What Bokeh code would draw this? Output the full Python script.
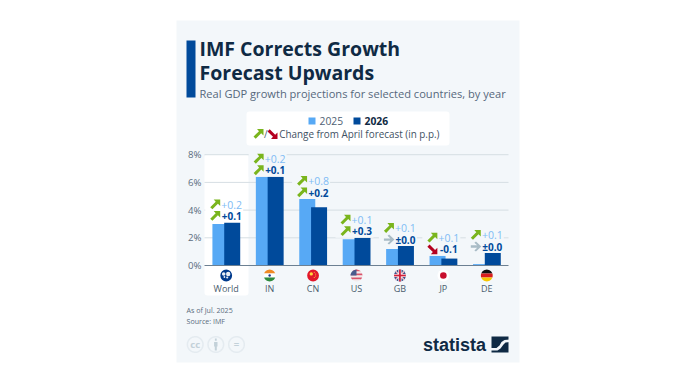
import numpy as np
from bokeh.plotting import figure
from bokeh.embed import file_html
from bokeh.resources import INLINE
from bokeh.core.properties import value
from bokeh.models import (BoxAnnotation, Label, PolyAnnotation,
                          Range1d, ColumnDataSource, FixedTicker, LinearAxis)
from bokeh.transform import dodge

countries = ["World", "IN", "CN", "US", "GB", "JP", "DE"]
growth_2025 = [3.0, 6.4, 4.8, 1.9, 1.2, 0.7, 0.1]
growth_2026 = [3.1, 6.4, 4.2, 2.0, 1.4, 0.5, 0.9]
change_2025 = ["+0.2", "+0.2", "+0.8", "+0.1", "+0.1", "+0.1", "+0.1"]
change_2026 = ["+0.1", "+0.1", "+0.2", "+0.3", "±0.0", "-0.1", "±0.0"]
y_ticks = [0, 2, 4, 6, 8]

W, H = 692, 384
F_L, F_R = 204, 508
Y0 = 265
PXY = 13.85
PXX = (F_R - F_L) / 7
X0 = F_L + PXX / 2      # page pixel of the first category

CARD = "#f3f7fa"; NAVY = "#0f2a44"; LIGHT = "#57a9f5"; DARK = "#004a9b"
GREEN = "#7ab51d"; RED = "#b5001f"; GREY = "#a9bcc6"; GRID = "#d6dee3"
TXT = "#5b6d7e"; FONT = "Open Sans"; ICON = "#c3d1d9"

# arrow outlines, in pixels around the arrow's centre (x to the right, y downwards)
UP = [(-1.5, -5), (5, -5), (5, 1.5), (2.7, -0.8), (-2.8, 4.8), (-5, 2.6), (0.5, -2.7)]
DOWN = [(a, -b) for a, b in UP]
FLAT = [(-5, -1.2), (1.4, -1.2), (-1.4, -3.9), (0.2, -5), (5.5, 0), (0.2, 5), (-1.4, 3.9), (1.4, 1.2), (-5, 1.2)]

p = figure(width=W, height=H, output_backend="svg", toolbar_location=None,
           x_range=Range1d(-X0 / PXX, (W - X0) / PXX),
           y_range=Range1d(-(H - Y0) / PXY, Y0 / PXY),
           x_axis_type=None, y_axis_type=None,
           min_border=0, min_border_left=0, min_border_right=0, min_border_top=0, min_border_bottom=0,
           background_fill_color=None, border_fill_color=None, outline_line_color=None)
p.grid.visible = False

def sy(y):
    return H - y
def box(l, r, t, b, color, radius=0, level="image"):
    p.add_layout(BoxAnnotation(left=l, right=r, top=sy(t), bottom=sy(b),
                      left_units="screen", right_units="screen", top_units="screen", bottom_units="screen",
                      fill_color=color, fill_alpha=1, line_color=None, level=level,
                      border_radius=radius, editable=False))
def label(x, y, text, size, color, bold=False, align="left", font=FONT):
    p.add_layout(Label(x=x, y=sy(y), x_units="screen", y_units="screen", text=text,
                       text_font=font, text_font_size=f"{size}px", text_color=color,
                       text_font_style="bold" if bold else "normal",
                       text_align=align, text_baseline="middle"))
def poly(pts, color, cx=0, cy=0, level="annotation"):
    p.add_layout(PolyAnnotation(xs=[cx + a for a, b in pts], ys=[sy(cy + b) for a, b in pts],
                                xs_units="screen", ys_units="screen", fill_color=color, fill_alpha=1,
                                line_color=None, level=level))

# card and panels
box(176, 519, 20, 362, CARD)
box(204, 248, 154, 295, "#ffffff", radius=3)
box(246, 449, 111, 145, "#ffffff", radius=3)
box(186, 195, 40, 97, DARK)

# axes
yax = LinearAxis(fixed_location=-0.5, ticker=FixedTicker(ticks=y_ticks),
                 major_label_overrides={t: f"{t}%" for t in y_ticks},
                 axis_line_color=None, major_tick_line_color=None, minor_tick_line_color=None,
                 major_tick_out=0, major_tick_in=0,
                 major_label_text_font=FONT, major_label_text_font_size="9.6px",
                 major_label_text_color=TXT, major_label_standoff=3)
p.add_layout(yax, "left")
xax = LinearAxis(fixed_location=-(281.5 - Y0) / PXY, ticker=FixedTicker(ticks=list(range(7))),
                 major_label_overrides={i: c for i, c in enumerate(countries)},
                 axis_line_color=None, major_tick_line_color=None, minor_tick_line_color=None,
                 major_tick_out=0, major_tick_in=0,
                 major_label_text_font=FONT, major_label_text_font_size="9px",
                 major_label_text_color="#4a5c6d", major_label_standoff=0)
p.add_layout(xax, "below")

# grid lines
p.segment(x0=[-0.5] * 4, x1=[6.5] * 4, y0=y_ticks[1:], y1=y_ticks[1:], line_color=GRID, line_width=1)

# bars
idx = list(range(7))
tops = [max(a, b) for a, b in zip(growth_2025, growth_2026)]
src = ColumnDataSource(dict(x=idx, a=growth_2025, b=growth_2026, top=tops, ca=change_2025, cb=change_2026))
p.vbar(x=dodge("x", -5.8 / PXX), top="a", bottom=0, width=16 / PXX, source=src, fill_color=LIGHT, line_color=None)
p.vbar(x=dodge("x", 6 / PXX), top="b", bottom=0, width=16 / PXX, source=src, fill_color=DARK, line_color=None)
p.segment(x0=[-0.5], x1=[6.5], y0=[0], y1=[0], line_color="#6c8092", line_width=1)

# change labels
bg_x = [i - 2 / PXX for i in idx]
bg_y = [t + 12.5 / PXY for t in tops]
bg_c = ["#ffffff"] + [CARD] * 6
p.rect(x=bg_x, y=bg_y, width=38, height=25, width_units="screen", height_units="screen",
       fill_color=bg_c, line_color=None)
p.text(x="x", y="top", text="ca", source=src, x_offset=5.5, y_offset=-18, text_align="center", text_baseline="middle",
       text_font=value(FONT), text_font_size="10.5px", text_color="#7fbcf5")
p.text(x="x", y="top", text="cb", source=src, x_offset=5.5, y_offset=-6.5, text_align="center", text_baseline="middle",
       text_font=value(FONT), text_font_size="10px", text_font_style="bold", text_color=DARK)

def delta_arrow(i, off, txt):
    if txt.startswith("+"):
        pts, c = UP, GREEN
    elif txt.startswith("-"):
        pts, c = DOWN, RED
    else:
        pts, c = FLAT, GREY
    p.patch([i + (a - 11) / PXX for a, b in pts], [tops[i] + (off - b) / PXY for a, b in pts],
            fill_color=c, line_color=None)
for i in idx:
    delta_arrow(i, 18, change_2025[i])
    delta_arrow(i, 6.5, change_2026[i])

# flags
FY = -10 / PXY
R = 5.9
def band(i, y0, y1, color, dx0=-R, dx1=R):
    ys = np.linspace(y0, y1, 12)
    half = np.sqrt(np.clip(R ** 2 - ys ** 2, 0, None))
    lx = np.maximum(-half, dx0); rx = np.minimum(half, dx1)
    X = np.r_[lx, rx[::-1]]; Y = np.r_[ys, ys[::-1]]
    p.patch(i + X / PXX, FY - Y / PXY, fill_color=color, line_color=None)
def disc(i, color, r=R, dx=0, dy=0):
    p.scatter([i + dx / PXX], [FY - dy / PXY], size=2 * r, fill_color=color, line_color=None, marker="circle")
def seg(i, x0, y0, x1, y1, color, w):
    p.segment([i + x0 / PXX], [FY - y0 / PXY], [i + x1 / PXX], [FY - y1 / PXY], line_color=color, line_width=w)
# World
disc(0, "#003a8c")
for dx, dy, r in [(-2.5, -1.5, 1.8), (2, -1.5, 2.2), (1, 2, 1.1), (-1.8, 1.5, .9)]:
    disc(0, "#e8eef5", r, dx, dy)
# IN
band(1, -R, -2, "#f08a24"); band(1, -2, 2, "#ffffff"); band(1, 2, R, "#2e8b3d"); disc(1, "#1f3a8a", 1.2)
# CN
disc(2, "#e2162a"); disc(2, "#ffd93b", 1.7, -1.8, -1.6)
for dx, dy in [(1.2, -3.2), (2.6, -1.4), (2.6, .6), (1.2, 2)]:
    disc(2, "#ffd93b", .5, dx, dy)
# US
for k in range(6):
    band(3, -R + k * 2 * R / 6, -R + (k + 1) * 2 * R / 6, "#d9536a" if k % 2 == 0 else "#f3e9ea")
band(3, -R, 0, "#4a5a8c", dx1=0)
# GB
disc(4, "#27407f")
seg(4, -4.2, -4.2, 4.2, 4.2, "#ffffff", 1.6); seg(4, -4.2, 4.2, 4.2, -4.2, "#ffffff", 1.6)
seg(4, -4.2, -4.2, 4.2, 4.2, "#d0213c", .6); seg(4, -4.2, 4.2, 4.2, -4.2, "#d0213c", .6)
seg(4, -R, 0, R, 0, "#ffffff", 3.2); seg(4, 0, -R, 0, R, "#ffffff", 3.2)
seg(4, -R, 0, R, 0, "#d0213c", 1.8); seg(4, 0, -R, 0, R, "#d0213c", 1.8)
# JP
disc(5, "#ffffff"); disc(5, "#c8102e", 3.3)
# DE
band(6, -R, -2, "#111111"); band(6, -2, 2, "#d81e1e"); band(6, 2, R, "#f7c600")

# titles
label(199, 48, "IMF Corrects Growth", 19.5, NAVY, True)
label(199, 72, "Forecast Upwards", 19.5, NAVY, True)
label(199, 93, "Real GDP growth projections for selected countries, by year", 11.1, "#56687c")

# legend
box(308, 315, 117, 124, LIGHT, level="annotation")
label(319, 120.7, "2025", 10.3, "#4f6173")
box(353, 360, 117, 124, DARK, level="annotation")
label(364, 120.7, "2026", 10.3, NAVY, True)
poly(UP, GREEN, 258, 133.5)
label(263.5, 133.3, "/", 10, "#4f6173")
poly(DOWN, RED, 272, 133.5)
label(278.7, 133.3, "Change from April forecast (in p.p.)", 9.9, "#3f5163")

# footer
label(186, 309, "As of Jul. 2025", 7.1, TXT)
label(186, 320.7, "Source: IMF", 7.1, TXT)
th = np.linspace(0, 2 * np.pi, 50)
for cx, t in [(194.7, "cc"), (215.3, ""), (236, "=")]:
    if t:
        label(cx, 343.6, t, 9.5, ICON, True, "center")
    p.add_layout(PolyAnnotation(xs=list(cx + 7.8 * np.cos(th)), ys=list(sy(344) + 7.8 * np.sin(th)),
                                xs_units="screen", ys_units="screen", fill_color=None,
                                line_color=ICON, line_width=1.5))
box(214.3, 216.3, 342, 350, ICON, level="annotation")
box(213.6, 217, 341.6, 346, ICON, level="annotation")
box(214.4, 216.2, 338, 340.2, ICON, level="annotation")

# logo
label(422.5, 344, "statista", 18, NAVY, True, font="Liberation Sans")
box(491, 508, 336, 352, NAVY, level="annotation")
S = [(489, 347.5), (496, 347.5), (499, 345), (501, 341.5), (504, 339.5), (510, 339), (510, 341.5),
     (505, 342), (503, 344), (500, 348), (497, 350), (489, 350)]
poly(S, CARD, level="overlay")

open("out.html", "w").write(file_html(p, INLINE))
